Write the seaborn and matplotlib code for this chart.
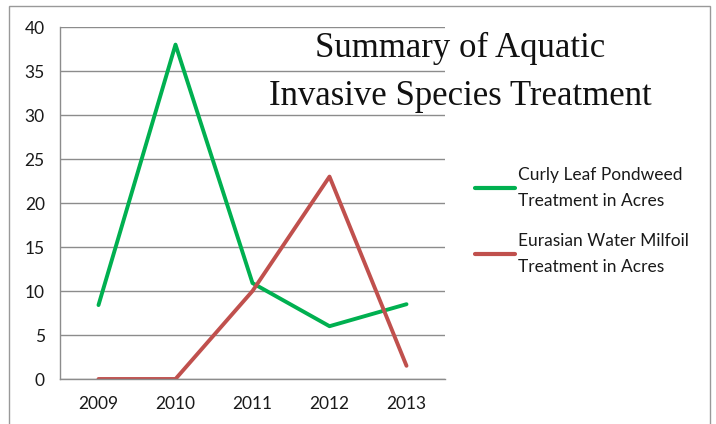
import matplotlib
matplotlib.use("Agg")
import matplotlib.pyplot as plt
from matplotlib.patches import Rectangle
from matplotlib.lines import Line2D
import seaborn as sns
import pandas as pd

years = ["2009", "2010", "2011", "2012", "2013"]
curly = [8.4, 38, 10.9, 6, 8.5]
milfoil = [0, 0, 10, 23, 1.5]
series_names = ["Curly Leaf Pondweed\nTreatment in Acres", "Eurasian Water Milfoil\nTreatment in Acres"]
colors = ["#00B050", "#C0504D"]
yticks = [0, 5, 10, 15, 20, 25, 30, 35, 40]
title = "Summary of Aquatic\nInvasive Species Treatment"

sns.set_theme(style="white")
plt.rcParams["font.family"] = ["Lato", "DejaVu Sans"]

df = pd.DataFrame({
    "idx": list(range(len(years))) * 2,
    "value": curly + milfoil,
    "series": [series_names[0]] * len(years) + [series_names[1]] * len(years),
})

fig = plt.figure(figsize=(7.16, 4.24), dpi=100)
W, H = 716, 424
ax = fig.add_axes([60 / W, 1 - 379 / H, (445 - 60) / W, (379 - 27) / H])

sns.lineplot(data=df, x="idx", y="value", hue="series", palette=colors,
             linewidth=2.8, ax=ax, legend=False, sort=False)

ax.set_xlim(-0.5, len(years) - 0.5)
ax.set_ylim(0, 40)
ax.set_yticks(yticks)
ax.set_yticklabels([str(v) for v in yticks], fontsize=12.5, color="#1a1a1a")
ax.set_xticks(range(len(years)))
ax.set_xticklabels(years, fontsize=12.5, color="#1a1a1a")
ax.set_xticks([i - 0.5 for i in range(len(years) + 1)], minor=True)
ax.tick_params(axis="x", which="major", length=0, pad=12)
ax.tick_params(axis="x", which="minor", length=5, width=1, color="#888888", direction="out")
ax.tick_params(axis="y", length=5, width=1, color="#888888", direction="out", pad=6)
ax.set_xlabel("")
ax.set_ylabel("")
ax.grid(axis="y", color="#8c8c8c", linewidth=1)
ax.set_axisbelow(True)
for s in ["top", "right"]:
    ax.spines[s].set_visible(False)
for s in ["left", "bottom"]:
    ax.spines[s].set_color("#8c8c8c")
    ax.spines[s].set_linewidth(1)

fig.text(460 / W, 1 - 72 / H, title, ha="center", va="center", fontsize=25,
         family=["Liberation Serif", "DejaVu Serif"], color="#111111", linespacing=1.6)

handles = [Line2D([], [], color=c, linewidth=3) for c in colors]
leg = fig.legend(handles, series_names, loc="upper left", bbox_to_anchor=(468 / W, 1 - 160 / H),
                 frameon=False, fontsize=12.5, handlelength=2.3, handletextpad=0.2,
                 labelspacing=1.4, borderaxespad=0)
for t in leg.get_texts():
    t.set_color("#1a1a1a")
    t.set_linespacing(1.75)

fig.patches.append(Rectangle((9 / W, -0.05), (710 - 9) / W, 1 - 6 / H + 0.05,
                             transform=fig.transFigure, fill=False,
                             edgecolor="#999999", linewidth=1))

fig.savefig("out.png", dpi=100)
